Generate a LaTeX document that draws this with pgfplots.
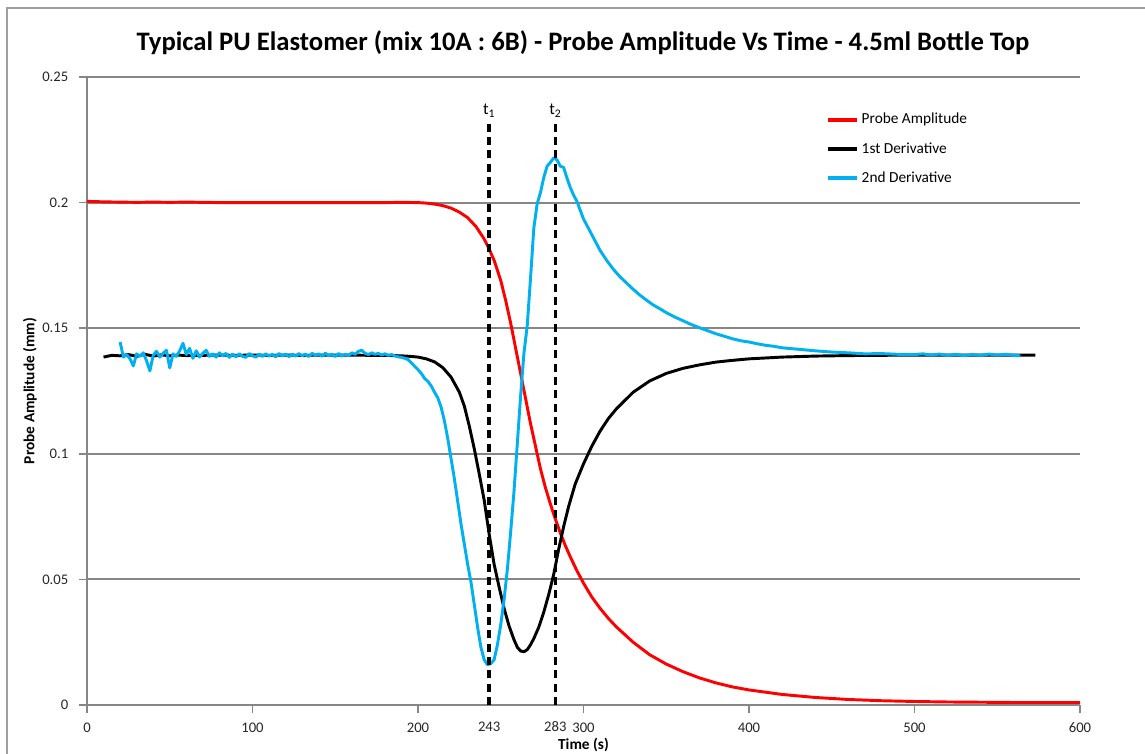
\documentclass[border=0pt]{standalone}
\usepackage{fontspec}
\setmainfont{Carlito}
\usepackage{pgfplots}
\pgfplotsset{compat=1.18}
\usepackage{pgfplotstable}
\definecolor{gridgray}{RGB}{134,134,134}
\definecolor{excelred}{RGB}{255,0,0}
\definecolor{excelcyan}{RGB}{0,176,240}

% Probe amplitude
\pgfplotstableread{
t a
0 0.2005
10 0.2003
20 0.2002
30 0.2001
40 0.2002
50 0.2001
60 0.2002
70 0.2001
80 0.2000
100 0.2000
120 0.2000
140 0.2000
160 0.2000
180 0.2000
190 0.2001
200 0.2000
205 0.1998
210 0.1994
215 0.1988
220 0.1978
225 0.1962
230 0.1940
235 0.1905
240 0.1855
243 0.1815
246 0.1770
250 0.1690
253 0.1610
256 0.1520
259 0.1420
262 0.1320
265 0.1220
268 0.1120
271 0.1030
274 0.0940
277 0.0865
280 0.0800
283 0.0740
286 0.0685
289 0.0635
292 0.0590
296 0.0535
300 0.0485
305 0.0430
310 0.0385
315 0.0345
320 0.0310
330 0.0250
340 0.0200
350 0.0163
360 0.0133
370 0.0108
380 0.0088
390 0.0072
400 0.0060
420 0.0042
440 0.0030
460 0.0022
480 0.0017
500 0.0014
520 0.0012
540 0.0011
560 0.0010
580 0.0010
600 0.0010
}\amplitude

% 1st derivative
\pgfplotstableread{
t d
10 0.1385
15 0.1392
20 0.1390
25 0.1395
30 0.1388
35 0.1396
40 0.1389
45 0.1394
50 0.1390
55 0.1393
60 0.1391
70 0.1392
80 0.1393
90 0.1392
100 0.1393
110 0.1392
120 0.1393
130 0.1392
140 0.1393
150 0.1393
160 0.1393
170 0.1392
180 0.1392
190 0.1390
195 0.1388
200 0.1385
205 0.1378
210 0.1366
215 0.1343
220 0.1305
225 0.1245
228 0.1190
231 0.1110
234 0.1020
237 0.0920
240 0.0815
243 0.0680
246 0.0560
249 0.0470
252 0.0385
255 0.0315
258 0.0260
260 0.0230
262 0.0215
264 0.0212
266 0.0220
268 0.0240
270 0.0265
273 0.0310
276 0.0370
279 0.0440
282 0.0520
285 0.0620
288 0.0710
291 0.0790
295 0.0880
300 0.0960
305 0.1030
310 0.1090
315 0.1140
320 0.1180
330 0.1245
340 0.1290
350 0.1320
360 0.1340
370 0.1354
380 0.1365
390 0.1372
400 0.1378
420 0.1385
440 0.1389
460 0.1391
480 0.1392
500 0.1393
540 0.1393
573 0.1393
}\firstder

% 2nd derivative
\pgfplotstableread{
t s
20 0.1445
22 0.1385
24 0.1395
26 0.1378
28 0.1350
30 0.1398
32 0.1388
34 0.1402
36 0.1370
38 0.1330
40 0.1392
42 0.1408
44 0.1385
46 0.1400
48 0.1412
50 0.1342
52 0.1398
54 0.1388
56 0.1410
58 0.1440
60 0.1395
62 0.1420
64 0.1380
66 0.1410
68 0.1385
70 0.1400
72 0.1412
74 0.1388
76 0.1398
78 0.1385
80 0.1402
82 0.1390
84 0.1400
86 0.1384
88 0.1397
90 0.1386
92 0.1398
94 0.1388
96 0.1384
98 0.1399
100 0.1390
102 0.1385
104 0.1396
106 0.1388
108 0.1398
110 0.1389
112 0.1396
114 0.1386
116 0.1399
118 0.1390
120 0.1397
122 0.1387
124 0.1396
126 0.1389
128 0.1399
130 0.1390
132 0.1397
134 0.1387
136 0.1400
138 0.1392
140 0.1398
142 0.1388
144 0.1401
146 0.1390
148 0.1397
150 0.1387
152 0.1399
154 0.1389
156 0.1396
158 0.1391
160 0.1402
162 0.1396
164 0.1408
166 0.1412
168 0.1400
170 0.1395
172 0.1402
174 0.1396
176 0.1400
178 0.1393
180 0.1398
182 0.1392
184 0.1395
186 0.1390
188 0.1386
190 0.1384
192 0.1380
194 0.1375
196 0.1362
198 0.1348
200 0.1335
202 0.1320
204 0.1300
206 0.1288
208 0.1270
210 0.1245
212 0.1222
214 0.1185
216 0.1130
218 0.1060
220 0.0980
222 0.0900
224 0.0810
226 0.0720
228 0.0640
230 0.0560
232 0.0490
234 0.0400
236 0.0310
238 0.0230
240 0.0180
242 0.0160
244 0.0165
246 0.0180
248 0.0240
250 0.0320
252 0.0420
254 0.0540
256 0.0690
258 0.0850
260 0.1040
262 0.1230
264 0.1400
266 0.1510
268 0.1700
270 0.1900
272 0.1995
274 0.2040
276 0.2100
278 0.2145
280 0.2160
282 0.2178
284 0.2170
286 0.2145
288 0.2140
290 0.2098
292 0.2060
294 0.2030
296 0.2005
298 0.1970
300 0.1935
302 0.1910
304 0.1885
306 0.1860
308 0.1835
310 0.1810
314 0.1770
318 0.1735
322 0.1705
326 0.1680
330 0.1655
334 0.1632
338 0.1612
342 0.1593
346 0.1578
350 0.1562
355 0.1545
360 0.1530
365 0.1515
370 0.1502
375 0.1490
380 0.1478
385 0.1468
390 0.1458
395 0.1450
400 0.1445
405 0.1438
410 0.1432
415 0.1428
420 0.1422
430 0.1416
440 0.1410
450 0.1405
460 0.1402
470 0.1398
480 0.1399
490 0.1396
500 0.1395
505 0.1398
510 0.1393
515 0.1397
520 0.1392
525 0.1396
530 0.1391
535 0.1395
540 0.1392
545 0.1397
550 0.1393
555 0.1396
560 0.1392
564 0.1390
}\secondder

\begin{document}
\begin{tikzpicture}
% page = 1145 x 753 px, 1 px = 0.75pt, axis corner at px (87,705)
\useasboundingbox (-65.25pt,-36pt) rectangle (793.5pt,528.75pt);
\draw[gridgray!80, line width=1.5pt] (-60pt,-50pt) -- (-60pt,522.75pt) -- (810pt,522.75pt);
\node[font=\bfseries\fontsize{20}{24}\selectfont] at (372pt,497pt)
  {Typical PU Elastomer (mix 10A : 6B) - Probe Amplitude Vs Time - 4.5ml Bottle Top};
\begin{axis}[
    scale only axis,
    width=744.75pt, height=471pt,
    xmin=0, xmax=600, ymin=0, ymax=0.25,
    axis lines=left,
    axis line style={draw=gridgray, line width=1.4pt, -},
    xtick={0,100,...,600},
    ytick={0,0.05,...,0.25},
    extra x ticks={243,283},
    extra x tick labels={243,283},
    extra x tick style={major tick length=0pt, grid=none, tick label style={yshift=-5pt}},
    tick align=outside,
    major tick length=6pt,
    tick style={draw=gridgray, line width=1.2pt},
    ymajorgrids,
    grid style={gridgray, line width=1.4pt},
    tick label style={font=\fontsize{11}{13}\selectfont, text=black!85},
    /pgf/number format/assume math mode=true,
    yticklabel style={/pgf/number format/fixed, /pgf/number format/precision=2, xshift=-4.5pt},
    xticklabel style={yshift=-4pt},
    xlabel={Time (s)},
    ylabel={Probe Amplitude (mm)},
    every axis x label/.style={at={(axis description cs:0.5,-0.0637)}, anchor=center,
        font=\bfseries\fontsize{11.5}{13}\selectfont},
    every axis y label/.style={at={(axis description cs:-0.0574,0.5)}, anchor=center, rotate=90,
        font=\bfseries\fontsize{11.5}{13}\selectfont},
    legend style={at={(0.744,0.947)}, anchor=north west, draw=none, fill=none,
        font=\fontsize{11.5}{13}\selectfont, row sep=8.5pt, inner sep=0pt},
    legend cell align=left,
    legend image code/.code={\draw[#1, line width=3pt] (0pt,0pt) -- (21.75pt,0pt);},
    line join=round,
]
\addplot[excelred, line width=2.2pt] table[x=t, y=a] {\amplitude};
\addlegendentry{Probe Amplitude}
\addplot[black, line width=2.2pt] table[x=t, y=d] {\firstder};
\addlegendentry{1st Derivative}
\addplot[excelcyan, line width=2.2pt] table[x=t, y=s] {\secondder};
\addlegendentry{2nd Derivative}
\addplot[black, line width=2.6pt, dash pattern=on 6pt off 4pt, forget plot] coordinates {(243,0) (243,0.232)};
\addplot[black, line width=2.6pt, dash pattern=on 6pt off 4pt, forget plot] coordinates {(283,0) (283,0.232)};
\node[font=\fontsize{12.5}{14}\selectfont] at (axis cs:243,0.2365) {t\textsubscript{1}};
\node[font=\fontsize{12.5}{14}\selectfont] at (axis cs:283,0.2365) {t\textsubscript{2}};
\end{axis}
\end{tikzpicture}
\end{document}
